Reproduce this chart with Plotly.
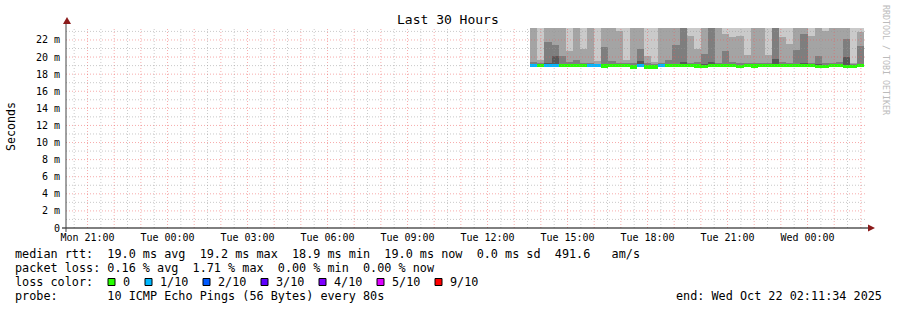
import plotly.graph_objects as go
import pandas as pd

# ---------------- data ----------------
END_TIME = "2025-10-22 02:11:34"
SPAN_HOURS = 30
DATA_START = "2025-10-21 13:36:00"   # first consolidated column
STEP_MIN = 16                        # consolidation step (minutes)

# median RTT per column (ms)
median_ms = [19.05, 19.0, 19.0, 19.0, 19.0, 19.0, 19.0, 19.0, 19.0, 19.0,
             18.95, 19.0, 19.0, 19.0, 18.85, 19.0, 18.85, 18.85, 19.0, 19.0,
             19.0, 19.0, 19.0, 18.95, 18.9, 19.0, 19.0, 19.0, 19.0, 18.9,
             19.0, 18.95, 19.0, 19.0, 19.0, 19.0, 19.0, 19.0, 19.0, 19.0,
             18.9, 18.9, 19.0, 19.0, 18.9, 18.9, 19.0]
# packet loss per column (out of 10)
loss_tenths = [1, 0, 1, 1, 0, 0, 0, 0, 1, 1,
               0, 0, 0, 0, 0, 1, 0, 0, 1, 0,
               0, 0, 0, 0, 0, 0, 0, 0, 0, 0,
               0, 0, 0, 0, 0, 0, 0, 0, 0, 0,
               0, 0, 0, 0, 0, 0, 0]
# lowest pings (ms)
smoke_lo = [18.9, 18.85, 18.85, 18.85, 18.85, 18.85, 18.85, 18.85, 18.85, 18.85,
            18.8, 18.85, 18.85, 18.85, 18.75, 18.85, 18.75, 18.75, 18.85, 18.85,
            18.85, 18.85, 18.85, 18.8, 18.75, 18.85, 18.85, 18.85, 18.85, 18.75,
            18.85, 18.8, 18.85, 18.85, 18.85, 18.85, 18.85, 18.85, 18.85, 18.85,
            18.75, 18.75, 18.85, 18.85, 18.75, 18.75, 18.85]
# upper sorted pings 7..10 of 10 (ms)
smoke_p7 = [19.15, 19.10, 19.30, 20.15, 19.20, 19.20, 19.10, 19.10, 19.10, 19.05,
            19.20, 19.15, 19.10, 19.10, 19.10, 19.50, 19.10, 19.05, 19.10, 19.10,
            19.20, 19.40, 19.10, 19.10, 19.20, 19.40, 19.10, 19.20, 19.10, 19.10,
            19.10, 19.10, 19.10, 19.10, 19.75, 19.10, 19.10, 19.20, 19.30, 19.10,
            19.20, 19.10, 19.10, 19.15, 20.00, 19.05, 19.20]
smoke_p8 = [19.40, 19.30, 21.75, 21.40, 20.15, 19.45, 19.60, 19.30, 19.35, 19.20,
            21.17, 19.50, 19.30, 19.25, 19.30, 20.90, 19.30, 19.20, 19.30, 19.70,
            21.40, 25.00, 19.30, 19.40, 20.40, 25.00, 19.30, 20.70, 19.40, 19.30,
            19.30, 19.35, 19.30, 19.30, 24.50, 19.40, 19.30, 20.80, 22.70, 19.30,
            20.10, 19.30, 19.35, 19.40, 22.10, 19.20, 21.30]
smoke_p9 = [26.0, 19.60, 28.0, 25.5, 24.5, 20.70, 24.8, 20.90, 25.0, 19.50,
            26.0, 27.0, 23.10, 19.60, 24.2, 26.0, 20.15, 19.40, 25.5, 24.6,
            26.0, 28.0, 22.50, 20.90, 25.5, 28.0, 24.5, 22.70, 22.35, 22.50,
            20.20, 25.5, 24.8, 20.30, 27.5, 22.30, 21.50, 25.5, 26.0, 22.45,
            25.0, 23.00, 25.0, 24.5, 26.5, 19.30, 22.90]
smoke_p10 = [31.0, 27.5, 33.0, 30.0, 29.0, 26.0, 28.5, 25.0, 29.5, 24.5,
             31.0, 30.0, 26.5, 25.5, 28.0, 32.0, 25.0, 24.0, 29.0, 28.0,
             30.5, 33.0, 26.0, 25.0, 30.0, 33.0, 28.0, 26.0, 26.5, 27.0,
             25.0, 29.0, 28.0, 25.0, 32.0, 26.0, 25.5, 30.0, 31.0, 26.5,
             29.0, 27.0, 28.5, 29.0, 31.0, 24.5, 27.0]

loss_labels = ["0", "1/10", "2/10", "3/10", "4/10", "5/10", "9/10"]
loss_levels = [0, 1, 2, 3, 4, 5, 9]
loss_colors = ["#26ff00", "#00b8ff", "#0059ff", "#5e00ff", "#7e00ff", "#dd00ff", "#ff0000"]

y_major = [0, 2, 4, 6, 8, 10, 12, 14, 16, 18, 20, 22]
Y_MAX = 23.4

stats_rtt = "median rtt:  19.0 ms avg  19.2 ms max  18.9 ms min  19.0 ms now  0.0 ms sd  491.6   am/s"
stats_loss = "packet loss: 0.16 % avg  1.71 % max  0.00 % min  0.00 % now"
probe_text = "probe:       10 ICMP Echo Pings (56 Bytes) every 80s"
end_text = "end: Wed Oct 22 02:11:34 2025"

# ---------------- derived ----------------
end_t = pd.Timestamp(END_TIME)
start_t = end_t - pd.Timedelta(hours=SPAN_HOURS)
n = len(median_ms)
step = pd.Timedelta(minutes=STEP_MIN)
centers = [pd.Timestamp(DATA_START) + step * k + step / 2 for k in range(n)]
width_ms = STEP_MIN * 60 * 1000

MONO = "DejaVu Sans Mono"
L, R, T, B = 66, 31, 28, 82
W, H = 897, 310
PW, PH = W - L - R, H - T - B


def px2x(px):
    return (px - L) / PW


def py2y(py):
    return (H - B - py) / PH


fig = go.Figure()

grey_levels = ["#cacaca", "#a4a4a4", "#7e7e7e", "#585858"]
for tops, col in zip([smoke_p10, smoke_p9, smoke_p8, smoke_p7], grey_levels):
    fig.add_trace(go.Bar(
        x=centers, base=smoke_lo, y=[t - b for t, b in zip(tops, smoke_lo)],
        width=width_ms, marker=dict(color=col, line=dict(width=0)),
        hoverinfo="skip"))

cmap = dict(zip(loss_levels, loss_colors))
LW = 0.38
fig.add_trace(go.Bar(
    x=centers, base=[m - LW / 2 for m in median_ms], y=[LW] * n,
    width=width_ms, marker=dict(color=[cmap[l] for l in loss_tenths], line=dict(width=0)),
    hoverinfo="skip"))

RED = "rgba(240,90,90,0.5)"
GREY = "rgba(150,150,150,0.5)"
shapes = []
# vertical grid
t = start_t.ceil("30min")
minor_v, major_v = [], []
while t <= end_t:
    (major_v if t.minute == 0 else minor_v).append(t)
    t += pd.Timedelta(minutes=30)
for tl, colr in [(minor_v, GREY), (major_v, RED)]:
    for tv in tl:
        shapes.append(dict(type="line", xref="x", yref="paper", x0=tv, x1=tv, y0=0, y1=1,
                           line=dict(color=colr, width=1, dash="1px,2px"), layer="above"))
# horizontal grid
for v in range(1, int(Y_MAX) + 1):
    colr = RED if v % 2 == 0 else GREY
    shapes.append(dict(type="line", xref="paper", yref="y", x0=0, x1=1, y0=v, y1=v,
                       line=dict(color=colr, width=1, dash="1px,2px"), layer="above"))
# axes lines
shapes.append(dict(type="line", xref="paper", yref="paper", x0=px2x(62), x1=px2x(870),
                   y0=0, y1=0, line=dict(color="#000000", width=1), layer="above"))
shapes.append(dict(type="line", xref="paper", yref="paper", x0=0, x1=0,
                   y0=py2y(232), y1=py2y(22), line=dict(color="#444444", width=1), layer="above"))
# arrows
shapes.append(dict(type="path", xref="paper", yref="paper",
                   path=f"M {px2x(63)} {py2y(24)} L {px2x(71)} {py2y(24)} L {px2x(67)} {py2y(17)} Z",
                   fillcolor="#8b1a1a", line=dict(width=0), layer="above"))
shapes.append(dict(type="path", xref="paper", yref="paper",
                   path=f"M {px2x(868)} {py2y(224.5)} L {px2x(868)} {py2y(231.5)} L {px2x(875)} {py2y(228)} Z",
                   fillcolor="#8b1a1a", line=dict(width=0), layer="above"))

annotations = []


def txt(s, px, py, size=11.8, anchor="left", color="black", angle=0):
    annotations.append(dict(text=s.replace(" ", "\u00a0"), x=px2x(px), y=py2y(py),
                            xref="paper", yref="paper", xanchor=anchor, yanchor="middle",
                            showarrow=False, textangle=angle, borderpad=0,
                            font=dict(family=MONO, size=size, color=color)))


txt("Last 30 Hours", 448, 19, size=13, anchor="center")
txt("Seconds", 11, 126, size=11.6, anchor="center", angle=-90)
txt("RRDTOOL / TOBI OETIKER", 886, 60, size=8.3, anchor="center", color="#bbbbbb", angle=90)
txt(stats_rtt, 14, 254)
txt(stats_loss, 14, 268)
txt("loss color:", 14, 282)
txt(probe_text, 14, 296)
txt(end_text, 883, 296, anchor="right")

bx = 108
for lab, colr in zip(loss_labels, loss_colors):
    shapes.append(dict(type="rect", xref="paper", yref="paper",
                       x0=px2x(bx), x1=px2x(bx + 7), y0=py2y(285.5), y1=py2y(278.5),
                       fillcolor=colr, line=dict(color="black", width=1)))
    txt(lab, bx + 14, 282)
    bx = bx + 14 + len(lab) * 7 + 16

# x ticks every 3 hours
xt = []
t = start_t.ceil("h")
while t <= end_t:
    if t.hour % 3 == 0:
        xt.append(t)
    t += pd.Timedelta(hours=1)

fig.update_layout(
    width=W, height=H, margin=dict(l=L, r=R, t=T, b=B),
    paper_bgcolor="white", plot_bgcolor="white",
    barmode="overlay", bargap=0, showlegend=False,
    font=dict(family=MONO, size=10, color="black"),
    shapes=shapes, annotations=annotations,
)
fig.update_xaxes(type="date", range=[start_t, end_t], tickvals=xt,
                 ticktext=[v.strftime("%a %H:%M") for v in xt],
                 showgrid=False, zeroline=False, showline=False, ticks="",
                 ticklabelstandoff=2, tickfont=dict(family=MONO, size=10))
fig.update_yaxes(range=[0, Y_MAX], tickvals=y_major,
                 ticktext=["0" if v == 0 else f"{v} m" for v in y_major],
                 showgrid=False, zeroline=False, showline=False, ticks="",
                 ticklabelstandoff=5, tickfont=dict(family=MONO, size=10))

fig.write_html("out.html")
